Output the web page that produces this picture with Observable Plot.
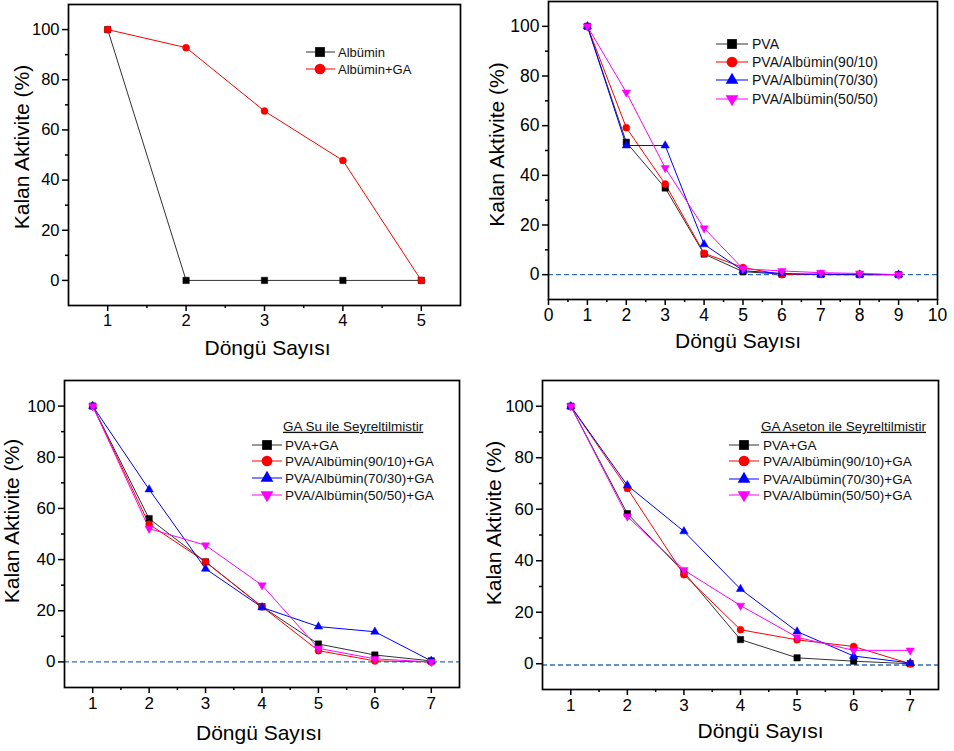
<!DOCTYPE html>
<html><head><meta charset="utf-8">
<script src="https://cdn.jsdelivr.net/npm/d3@7"></script>
<script src="https://cdn.jsdelivr.net/npm/@observablehq/plot@0.6"></script>
<style>
body{margin:0;background:#fff;}
#wrap{position:relative;width:954px;height:751px;overflow:hidden;font-family:"Liberation Sans",Arial,sans-serif;}
.panel{position:absolute;}
</style></head><body><div id="wrap"></div>
<script>
const xLabel = "Döngü Sayısı";
const yLabel = "Kalan Aktivite (%)";

// Panel A (top-left)
const cyclesA = [1, 2, 3, 4, 5];
const albumin = [100, 0, 0, 0, 0];
const albuminGA = [100, 92.8, 67.5, 47.8, 0];
const namesA = ["Albümin", "Albümin+GA"];

// Panel B (top-right)
const cyclesB = [1, 2, 3, 4, 5, 6, 7, 8, 9];
const pva = [100, 53.3, 34.9, 8.3, 1.2, 0.2, 0.1, 0, 0];
const pva9010 = [100, 59.2, 36.5, 8.6, 2.9, 0, 0.3, 0.2, 0];
const pva7030 = [100, 52, 52, 12.2, 1.6, 0.5, 0, 0, 0];
const pva5050 = [100, 73.4, 43, 18.7, 2.4, 1.5, 0.8, 0.5, 0];
const namesB = ["PVA", "PVA/Albümin(90/10)", "PVA/Albümin(70/30)", "PVA/Albümin(50/50)"];

// Panel C (bottom-left) GA diluted with water
const cyclesC = [1, 2, 3, 4, 5, 6, 7];
const suPva = [100, 56, 39.1, 21.6, 7, 2.7, 0.4];
const su9010 = [100, 53.8, 39.1, 21.6, 4.4, 0.4, 0];
const su7030 = [100, 67.4, 36.4, 21.3, 13.8, 11.8, 0.4];
const su5050 = [100, 52.1, 45.6, 30, 5.3, 1.2, 0];
const titleC = "GA Su ile Seyreltilmistir";

// Panel D (bottom-right) GA diluted with acetone
const cyclesD = [1, 2, 3, 4, 5, 6, 7];
const asPva = [100, 58.3, 35.5, 9.4, 2.3, 1, 0];
const as9010 = [100, 68.1, 34.6, 13.2, 9.3, 6.7, 0];
const as7030 = [100, 69.3, 51.4, 29, 12.5, 3, 0.3];
const as5050 = [100, 57.2, 36.4, 22.6, 10.3, 5.2, 5.2];
const titleD = "GA Aseton ile Seyreltilmistir";
const namesCD = ["PVA+GA", "PVA/Albümin(90/10)+GA", "PVA/Albümin(70/30)+GA", "PVA/Albümin(50/50)+GA"];

// ticks
const yTicks = [0, 20, 40, 60, 80, 100];
const yMinor = [10, 30, 50, 70, 90];
const xTicksA = [1, 2, 3, 4, 5];
const xMinorA = [1.5, 2.5, 3.5, 4.5];
const xTicksB = [0, 1, 2, 3, 4, 5, 6, 7, 8, 9, 10];
const xMinorB = [0.5, 1.5, 2.5, 3.5, 4.5, 5.5, 6.5, 7.5, 8.5, 9.5];
const xTicksC = [1, 2, 3, 4, 5, 6, 7];
const xMinorC = [1.5, 2.5, 3.5, 4.5, 5.5, 6.5];

const colors = ["#000000", "#ff0000", "#0000ff", "#ff00ff"];
const lineColors = ["#333333", "#ff0000", "#0000ff", "#ff00ff"];
const triangleDown = {
  draw(context, size) {
    const sqrt3 = Math.sqrt(3);
    const y = -Math.sqrt(size / (sqrt3 * 3));
    context.moveTo(0, -y * 2);
    context.lineTo(-sqrt3 * y, y);
    context.lineTo(sqrt3 * y, y);
    context.closePath();
  }
};
const plotSymbols = ["square", "circle", "triangle", triangleDown];
const d3Symbols = [d3.symbolSquare, d3.symbolCircle, d3.symbolTriangle, triangleDown];
const dotR = [3.6, 3.5, 3.1, 3.1];
const legendSize = [95, 90, 70, 70];
const FONT = "'Liberation Sans', Arial, sans-serif";

const wrap = document.getElementById("wrap");

function makePanel(cfg) {
  const marks = [];
  if (cfg.dash != null) marks.push(Plot.ruleY([cfg.dash], {stroke: "#2f6fbd", strokeWidth: 1.4, strokeDasharray: "5,3"}));
  cfg.series.forEach((s, i) => {
    marks.push(Plot.line(cfg.cycles, {x: d => d, y: (d, j) => s[j], stroke: lineColors[i], strokeWidth: 1}));
  });
  cfg.series.forEach((s, i) => {
    marks.push(Plot.dot(cfg.cycles, {x: d => d, y: (d, j) => s[j], symbol: plotSymbols[i], r: dotR[i], fill: colors[i], stroke: colors[i], strokeWidth: 0.5}));
  });
  marks.push(Plot.frame({stroke: "#000", strokeWidth: 1.7}));
  marks.push(Plot.axisX(cfg.xTicks, {tickSize: 6, tickPadding: 3, strokeWidth: 1.5, fontSize: cfg.tickFont, label: null}));
  marks.push(Plot.axisX(cfg.xMinor, {tickSize: 3, strokeWidth: 1.5, tickFormat: () => "", label: null}));
  marks.push(Plot.axisY(yTicks, {tickSize: 6, tickPadding: 3, strokeWidth: 1.5, fontSize: cfg.tickFont, label: null}));
  marks.push(Plot.axisY(yMinor, {tickSize: 3, strokeWidth: 1.5, tickFormat: () => "", label: null}));
  marks.push(Plot.text([xLabel], {frameAnchor: "bottom", textAnchor: "middle", lineAnchor: "middle", dx: cfg.xlDx, dy: cfg.xlDy, fontSize: 21}));
  marks.push(Plot.text([yLabel], {frameAnchor: "left", textAnchor: "middle", lineAnchor: "middle", rotate: -90, dx: cfg.ylDx, dy: cfg.ylDy, fontSize: 21}));

  const svg = Plot.plot({
    width: cfg.width, height: cfg.height,
    marginLeft: cfg.m[0], marginRight: cfg.m[1], marginTop: cfg.m[2], marginBottom: cfg.m[3],
    x: {domain: cfg.xDomain},
    y: {domain: [-10, 110]},
    style: {fontFamily: FONT, fontSize: cfg.tickFont + "px", color: "#000", background: "transparent", overflow: "visible"},
    marks
  });

  // legend
  const L = cfg.legend;
  const g = d3.select(svg).append("g").attr("font-family", FONT).attr("font-size", L.font).attr("text-anchor", "start");
  if (L.title) {
    g.append("text").attr("x", L.titleX).attr("y", L.titleY).attr("dy", "0.35em")
      .attr("fill", "#111").text(L.title)
      .style("text-decoration", "underline");
  }
  cfg.names.forEach((name, i) => {
    const y = L.ys[i];
    g.append("line").attr("x1", L.x0).attr("x2", L.x1).attr("y1", y).attr("y2", y)
      .attr("stroke", lineColors[i]).attr("stroke-width", 1);
    g.append("path").attr("transform", `translate(${L.xm},${y})`)
      .attr("d", d3.symbol().type(d3Symbols[i]).size(legendSize[i])())
      .attr("fill", colors[i]);
    g.append("text").attr("x", L.xt).attr("y", y).attr("dy", "0.35em").attr("fill", "#111").text(name);
  });

  const div = document.createElement("div");
  div.className = "panel";
  div.style.left = cfg.left + "px";
  div.style.top = cfg.top + "px";
  div.appendChild(svg);
  wrap.appendChild(div);
}

makePanel({
  left: 0, top: 0, width: 470, height: 370, m: [68, 10, 4, 65],
  xDomain: [0.5, 5.5], xTicks: xTicksA, xMinor: xMinorA, tickFont: 16.5,
  cycles: cyclesA, series: [albumin, albuminGA], names: namesA, dash: null,
  xlDx: 3, xlDy: 43, ylDx: -46, ylDy: -8,
  legend: {font: 13, x0: 306, x1: 335, xm: 320, xt: 338, ys: [52, 69]}
});

makePanel({
  left: 477, top: 0, width: 477, height: 370, m: [71, 17, 1, 71],
  xDomain: [0, 10], xTicks: xTicksB, xMinor: xMinorB, tickFont: 17.5,
  cycles: cyclesB, series: [pva, pva9010, pva7030, pva5050], names: namesB, dash: 0,
  xlDx: -5, xlDy: 42, ylDx: -51, ylDy: -6,
  legend: {font: 14, x0: 239, x1: 271, xm: 255, xt: 275, ys: [44, 62, 80, 99]}
});

makePanel({
  left: 0, top: 370, width: 470, height: 381, m: [64, 11, 10, 64],
  xDomain: [0.5, 7.5], xTicks: xTicksC, xMinor: xMinorC, tickFont: 17,
  cycles: cyclesC, series: [suPva, su9010, su7030, su5050], names: namesCD, dash: 0,
  xlDx: -3, xlDy: 46, ylDx: -52, ylDy: -13,
  legend: {font: 13.5, title: titleC, titleX: 283, titleY: 56, x0: 252, x1: 282, xm: 267, xt: 285, ys: [75, 91, 108, 125]}
});

makePanel({
  left: 477, top: 370, width: 477, height: 381, m: [65, 16, 10, 62],
  xDomain: [0.5, 7.5], xTicks: xTicksC, xMinor: xMinorC, tickFont: 17,
  cycles: cyclesD, series: [asPva, as9010, as7030, as5050], names: namesCD, dash: -0.5,
  xlDx: 20, xlDy: 42, ylDx: -48, ylDy: -12,
  legend: {font: 13.5, title: titleD, titleX: 284, titleY: 56, x0: 252, x1: 282, xm: 267, xt: 286, ys: [75, 91, 109, 125]}
});
</script></body></html>
